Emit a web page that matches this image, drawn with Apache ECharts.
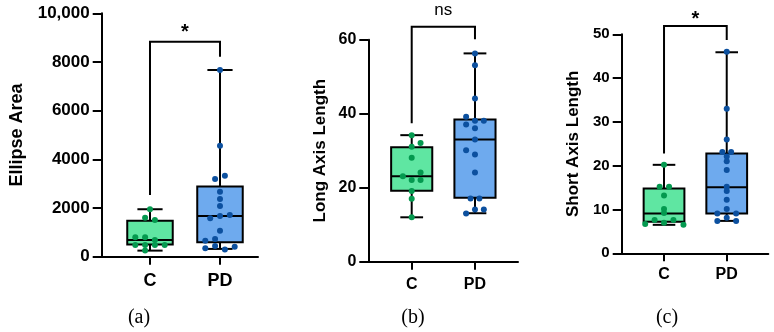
<!DOCTYPE html>
<html>
<head>
<meta charset="utf-8">
<script src="https://cdn.jsdelivr.net/npm/echarts@6/dist/echarts.min.js"></script>
<style>
    html, body {margin: 0; padding: 0; background: #fff;}
    #main {width: 774px; height: 332px;}
</style>
</head>
<body>
<div id="main"></div>
<script>
// groups on the x axis
const groups = ['C', 'PD'];

/** (a) Ellipse Area */
const areaTicks = [0, 2000, 4000, 6000, 8000, 10000];
// box: [min, Q1, median, Q3, max]
const areaBoxC = [250, 500, 690, 1480, 1950];
const areaBoxPD = [320, 590, 1670, 2880, 7670];
const areaPointsC = [[1, 1950], [0.93, 1600], [1.07, 1510], [0.79, 800], [0.93, 800], [1.07, 690],
    [0.79, 480], [0.93, 480], [1.07, 480], [1.21, 480], [0.93, 250]];
const areaPointsPD = [[2, 7670], [2, 4560], [1.93, 3190], [2.07, 3330], [2, 2670], [2, 2370], [2, 2080],
    [1.86, 1580], [2, 1670], [2.14, 1710], [2, 1070], [1.79, 660], [1.93, 730], [1.79, 350],
    [1.93, 440], [2.07, 300], [2.21, 410]];
// bracket: [x1, x2, top, left end, right end]
const areaBracket = [1, 2, 8830, 2540, 8220];

/** (b) Long Axis Length */
const longTicks = [0, 20, 40, 60];
const longBoxC = [12.0, 19.2, 23.1, 30.9, 34.2];
const longBoxPD = [13.1, 17.3, 33.0, 38.4, 56.3];
const longPointsC = [[1, 34.2], [1.14, 32.1], [1, 31.1], [1, 28.1], [0.86, 23.1], [1.14, 24.1],
    [1, 22.1], [1.14, 22.1], [1, 19.1], [1, 17.0], [1, 12.0]];
const longPointsPD = [[2, 56.3], [2, 53.1], [2, 44.1], [1.86, 39.2], [2, 38.1], [2.14, 38.1],
    [1.86, 37.1], [2, 36.1], [2, 33.0], [1.86, 30.1], [2, 29.0], [2, 24.1], [1.93, 17.1],
    [2.07, 17.1], [2, 14.1], [2.14, 14.1], [1.86, 13.0]];
const longBracket = [1, 2, 63.5, 37.4, 60.1];

/** (c) Short Axis Length */
const shortTicks = [0, 10, 20, 30, 40, 50];
const shortBoxC = [6.5, 7.2, 9.1, 14.8, 20.2];
const shortBoxPD = [7.4, 9.1, 15.1, 22.8, 45.9];
const shortPointsC = [[1, 20.2], [0.93, 15.2], [1.08, 15.2], [1, 13.2], [1, 10.1], [1, 9.2],
    [0.85, 7.6], [1.15, 7.6], [1, 7.0], [0.7, 6.7], [1.31, 6.5]];
const shortPointsPD = [[2, 46], [2, 33], [2, 26], [1.93, 23.1], [2.07, 23.1], [2, 22.1], [2, 21],
    [2, 19], [2, 15.2], [2, 14.2], [2, 12.2], [2, 10.1], [1.85, 9.1], [2.15, 9.1], [2, 8.1],
    [1.85, 7.4], [2.15, 7.4]];
const shortBracket = [1, 2, 51.9, 22.8, 48.7];

const FONT = '"Liberation Sans", Arial, sans-serif';
const SERIF = '20px "Liberation Serif", serif';
const FILLS = ['#5fe6a2', '#6eaaee'];
const DOTS = ['#04994f', '#0c509f'];
const BOX_W = 0.65, CAP_W = 0.36;

let chart = echarts.init(document.getElementById('main'));

/**画箱线*/
function renderBox(params, api) {
    let x = api.value(0);
    let half = api.size([BOX_W, 0])[0] / 2;
    let cap = api.size([CAP_W, 0])[0] / 2;
    let p = [1, 2, 3, 4, 5].map(i => api.coord([x, api.value(i)]));
    let cx = p[0][0];
    let line = {stroke: '#000', lineWidth: 2};
    return {
        type: 'group',
        children: [
            {type: 'line', shape: {x1: cx, y1: p[4][1], x2: cx, y2: p[3][1]}, style: line},
            {type: 'line', shape: {x1: cx, y1: p[1][1], x2: cx, y2: p[0][1]}, style: line},
            {type: 'line', shape: {x1: cx - cap, y1: p[4][1], x2: cx + cap, y2: p[4][1]}, style: line},
            {type: 'line', shape: {x1: cx - cap, y1: p[0][1], x2: cx + cap, y2: p[0][1]}, style: line},
            {type: 'rect', shape: {x: cx - half, y: p[3][1], width: half * 2, height: p[1][1] - p[3][1]},
                style: {fill: FILLS[params.dataIndex], stroke: '#000', lineWidth: 2}},
            {type: 'line', shape: {x1: cx - half, y1: p[2][1], x2: cx + half, y2: p[2][1]}, style: line}
        ]
    };
}

/**画显著性括号*/
function makeBracket(label, font, gap) {
    return function (params, api) {
        let a = api.coord([api.value(0), api.value(3)]);
        let tl = api.coord([api.value(0), api.value(2)]);
        let tr = api.coord([api.value(1), api.value(2)]);
        let b = api.coord([api.value(1), api.value(4)]);
        return {
            type: 'group',
            children: [
                {type: 'polyline', shape: {points: [a, tl, tr, b]},
                    style: {stroke: '#000', lineWidth: 2, fill: null, lineJoin: 'miter'}},
                {type: 'text', x: (tl[0] + tr[0]) / 2, y: tl[1] - gap,
                    style: {text: label, font: font, fill: '#000', align: 'center', verticalAlign: 'middle'}}
            ]
        };
    };
}

function xAxisOf(i, min, max, size, margin) {
    return {
        type: 'value', gridIndex: i, min: min, max: max,
        axisLine: {show: true, onZero: false, lineStyle: {color: '#000', width: 2}},
        axisTick: {show: true, length: 8, customValues: [1, 2], lineStyle: {color: '#000', width: 2}},
        axisLabel: {customValues: [1, 2], formatter: v => groups[Math.round(v) - 1],
            color: '#000', fontWeight: 'bold', fontSize: size, fontFamily: FONT, margin: margin},
        splitLine: {show: false}
    };
}

function yAxisOf(i, ticks, name, size, nameSize, nameGap, margin) {
    return {
        type: 'value', gridIndex: i, min: ticks[0], max: ticks[ticks.length - 1],
        interval: ticks[1] - ticks[0],
        name: name, nameLocation: 'middle', nameGap: nameGap,
        nameTextStyle: {color: '#000', fontWeight: 'bold', fontSize: nameSize, fontFamily: FONT},
        axisLine: {show: true, onZero: false, lineStyle: {color: '#000', width: 2}},
        axisTick: {show: true, length: 9, lineStyle: {color: '#000', width: 2}},
        axisLabel: {color: '#000', fontWeight: 'bold', fontSize: size, fontFamily: FONT, margin: margin,
            formatter: v => v >= 10000 ? v.toLocaleString('en-US') : String(v)},
        splitLine: {show: false}
    };
}

function panelSeries(i, boxC, boxPD, ptsC, ptsPD, bracket, label, font, gap) {
    return [
        {type: 'custom', xAxisIndex: i, yAxisIndex: i, renderItem: renderBox, z: 2,
            data: [[1].concat(boxC), [2].concat(boxPD)]},
        {type: 'scatter', xAxisIndex: i, yAxisIndex: i, symbolSize: 6, z: 3,
            itemStyle: {color: DOTS[0], opacity: 1}, data: ptsC},
        {type: 'scatter', xAxisIndex: i, yAxisIndex: i, symbolSize: 6, z: 3,
            itemStyle: {color: DOTS[1], opacity: 1}, data: ptsPD},
        {type: 'custom', xAxisIndex: i, yAxisIndex: i, renderItem: makeBracket(label, font, gap), z: 2,
            data: [bracket]}
    ];
}

let option = {
    animation: false,
    backgroundColor: '#fff',
    grid: [
        {left: 101.7, top: 13.3, width: 156.3, height: 243.4},
        {left: 368.3, top: 39.7, width: 149.7, height: 222},
        {left: 621.7, top: 34.3, width: 146.6, height: 219}
    ],
    xAxis: [
        xAxisOf(0, 0.31, 2.543, 18, 15),
        xAxisOf(1, 0.314, 2.68, 16, 15),
        xAxisOf(2, 0.325, 2.663, 16, 13)
    ],
    yAxis: [
        yAxisOf(0, areaTicks, 'Ellipse Area', 17, 18, 76, 12),
        yAxisOf(1, longTicks, 'Long Axis Length', 16, 17, 39, 12),
        yAxisOf(2, shortTicks, 'Short Axis Length', 15, 17, 40, 12)
    ],
    series: [].concat(
        panelSeries(0, areaBoxC, areaBoxPD, areaPointsC, areaPointsPD, areaBracket,
            '*', 'bold 20px ' + FONT, 9),
        panelSeries(1, longBoxC, longBoxPD, longPointsC, longPointsPD, longBracket,
            'ns', '17px ' + FONT, 16),
        panelSeries(2, shortBoxC, shortBoxPD, shortPointsC, shortPointsPD, shortBracket,
            '*', 'bold 20px ' + FONT, 6)
    ),
    graphic: [
        {type: 'text', x: 139, y: 318, style: {text: '(a)', font: SERIF, fill: '#000', align: 'center', verticalAlign: 'middle'}},
        {type: 'text', x: 413, y: 318, style: {text: '(b)', font: SERIF, fill: '#000', align: 'center', verticalAlign: 'middle'}},
        {type: 'text', x: 667, y: 318, style: {text: '(c)', font: SERIF, fill: '#000', align: 'center', verticalAlign: 'middle'}}
    ]
};

chart.setOption(option);
</script>
</body>
</html>
